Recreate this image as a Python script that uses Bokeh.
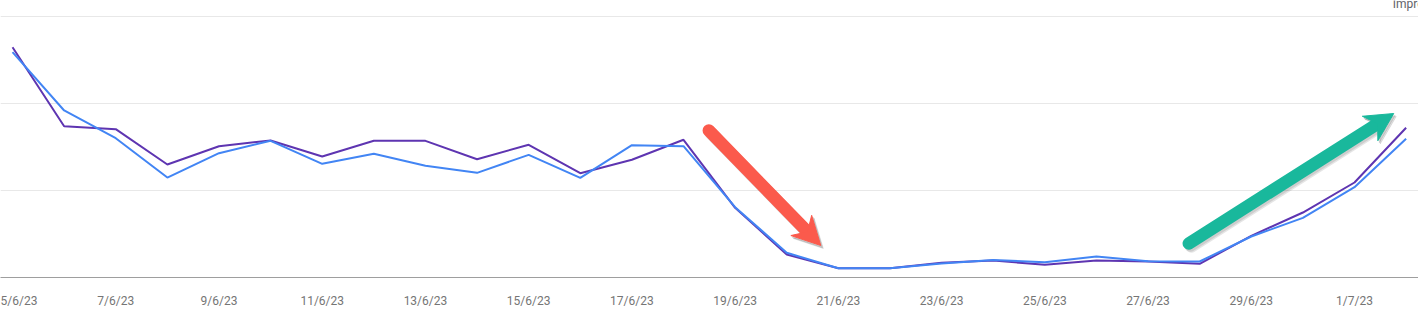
import numpy as np
import pandas as pd
from bokeh.plotting import figure
from bokeh.models import Range1d, FixedTicker, DatetimeTickFormatter, Label
from bokeh.core.properties import value
from bokeh.embed import file_html
from bokeh.resources import INLINE

# ---- data ----
dates = pd.date_range("2023-06-05", "2023-07-02", freq="D")
series_purple = [2647, 1739, 1705, 1299, 1509, 1575, 1391, 1571, 1571, 1360,
                 1525, 1199, 1353, 1583, 801, 264, 107, 107, 169, 195,
                 146, 195, 184, 157, 479, 747, 1092, 1721]
series_blue = [2590, 1920, 1601, 1149, 1429, 1571, 1307, 1422, 1284, 1203,
               1410, 1146, 1521, 1509, 808, 284, 107, 107, 161, 201,
               176, 241, 187, 184, 471, 686, 1038, 1594]
tick_dates = pd.date_range("2023-06-05", "2023-07-02", freq="2D")
grid_values = [0, 1000, 2000, 3000]
axis_title = "Impressions"

# annotation arrows: (start day offset, start value, tip day offset, tip value)
red_arrow = (13.49, 1690, 15.66, 368)
green_arrow = (22.79, 391, 26.76, 1885)

W, H = 1418, 321
FRAME_H = 277
DAY_MS = 86400000.0
t0 = dates[0].value / 1e6
x_start = t0 - 0.233 * DAY_MS
x_end = t0 + 27.24 * DAY_MS
y_start, y_end = 0, 3184

def v_at_px_from_top(px):
    return y_start + (FRAME_H - px) / FRAME_H * (y_end - y_start)

p = figure(width=W, height=H, output_backend="svg", toolbar_location=None,
           x_axis_type="datetime", y_axis_location=None,
           x_range=Range1d(x_start, x_end), y_range=Range1d(y_start, y_end),
           min_border_left=0, min_border_right=0, min_border_top=0,
           min_border_bottom=H - FRAME_H)
p.outline_line_color = None
p.background_fill_color = "white"
p.border_fill_color = "white"
p.xgrid.visible = False
p.ygrid.ticker = FixedTicker(ticks=grid_values)
p.ygrid.grid_line_color = "#e8e8e8"
p.ygrid.grid_line_width = 1

tick_ms = [d.value / 1e6 for d in tick_dates]
xa = p.xaxis[0]
xa.ticker = FixedTicker(ticks=tick_ms)
xa.formatter = DatetimeTickFormatter(days="%-d/%-m/%y", months="%-d/%-m/%y")
xa.major_tick_line_color = None
xa.minor_tick_line_color = None
xa.major_tick_out = 0
xa.major_tick_in = 0
xa.axis_line_color = "#9e9e9e"
xa.axis_line_width = 1
xa.major_label_text_font = "Roboto"
xa.major_label_text_font_size = "12px"
xa.major_label_text_color = "#757575"
xa.major_label_standoff = 16

p.line(dates, series_purple, line_color="#5e35b1", line_width=2)
p.line(dates, series_blue, line_color="#4285f4", line_width=2)

# axis title, clipped at top edge
p.add_layout(Label(x=t0 + 26.74 * DAY_MS, y=v_at_px_from_top(3.5), text=axis_title,
                   text_font="Roboto", text_font_size="12px", text_color="#5f6368",
                   text_baseline="alphabetic", text_align="left"))

# ---- arrows ----
def to_px(day, v):
    x_ms = t0 + day * DAY_MS
    px = (x_ms - x_start) / (x_end - x_start) * W
    py = (v - y_start) / (y_end - y_start) * FRAME_H  # from bottom
    return np.array([px, py])

def to_data(pt):
    x_ms = x_start + pt[0] / W * (x_end - x_start)
    v = y_start + pt[1] / FRAME_H * (y_end - y_start)
    return x_ms, v

def draw_arrow(spec, color, dx=0.0, dy=0.0, alpha=1.0):
    s = to_px(spec[0], spec[1]) + np.array([dx, dy])
    t = to_px(spec[2], spec[3]) + np.array([dx, dy])
    d = t - s
    d = d / np.linalg.norm(d)
    n = np.array([-d[1], d[0]])
    head_len, half_w, notch = 28.0, 14.5, 19.0
    shaft_end = t - d * (notch + 1)
    sx, sy = to_data(s)
    ex, ey = to_data(shaft_end)
    p.segment(x0=[sx], y0=[sy], x1=[ex], y1=[ey], line_color=color,
              line_width=12.5, line_cap="round", line_alpha=alpha)
    pts = [t, t - d * head_len + n * half_w, t - d * notch,
           t - d * head_len - n * half_w]
    xs, ys = zip(*[to_data(q) for q in pts])
    p.patch(list(xs), list(ys), fill_color=color, line_color=color,
            line_width=1, fill_alpha=alpha, line_alpha=alpha)

for spec, col in [(red_arrow, "#fb5a4c"), (green_arrow, "#19b89c")]:
    draw_arrow(spec, "#000000", dx=2.5, dy=-3.0, alpha=0.10)
    draw_arrow(spec, "#000000", dx=1.5, dy=-2.0, alpha=0.10)
    draw_arrow(spec, col)

open("out.html", "w").write(file_html(p, INLINE))
